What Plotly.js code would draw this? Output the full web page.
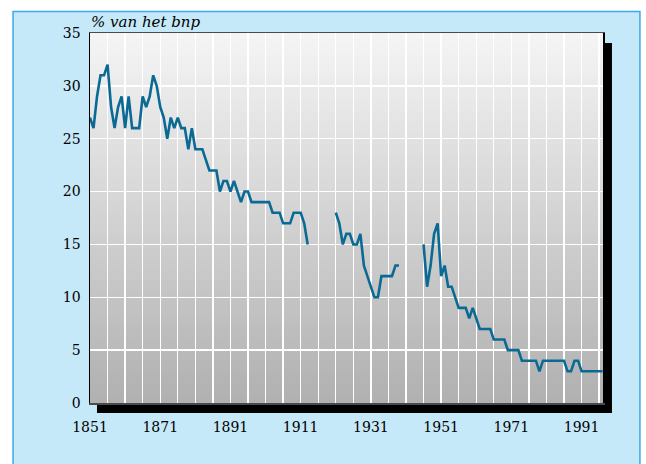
<!DOCTYPE html>
<html>
<head>
<meta charset="utf-8">
<script src="https://cdn.plot.ly/plotly-3.0.1.min.js"></script>
<style>
html,body{margin:0;padding:0;background:#ffffff;}
#chart{width:646px;height:464px;}
</style>
</head>
<body>
<div id="chart"></div>
<script>
// Data
var years = [
1851,1852,1853,1854,1855,1856,1857,1858,1859,1860,
1861,1862,1863,1864,1865,1866,1867,1868,1869,1870,
1871,1872,1873,1874,1875,1876,1877,1878,1879,1880,
1881,1882,1883,1884,1885,1886,1887,1888,1889,1890,
1891,1892,1893,1894,1895,1896,1897,1898,1899,1900,
1901,1902,1903,1904,1905,1906,1907,1908,1909,1910,
1911,1912,1913,1914,1915,1916,1917,1918,1919,1920,
1921,1922,1923,1924,1925,1926,1927,1928,1929,1930,
1931,1932,1933,1934,1935,1936,1937,1938,1939,1940,
1941,1942,1943,1944,1945,1946,1947,1948,1949,1950,
1951,1952,1953,1954,1955,1956,1957,1958,1959,1960,
1961,1962,1963,1964,1965,1966,1967,1968,1969,1970,
1971,1972,1973,1974,1975,1976,1977,1978,1979,1980,
1981,1982,1983,1984,1985,1986,1987,1988,1989,1990,
1991,1992,1993,1994,1995,1996,1997
];
var pctGdp = [
27,26,29,31,31,32,28,26,28,29,
26,29,26,26,26,29,28,29,31,30,
28,27,25,27,26,27,26,26,24,26,
24,24,24,23,22,22,22,20,21,21,
20,21,20,19,20,20,19,19,19,19,
19,19,18,18,18,17,17,17,18,18,
18,17,15,null,null,null,null,null,null,null,
18,17,15,16,16,15,15,16,13,12,
11,10,10,12,12,12,12,13,13,null,
null,null,null,null,null,15,11,13,16,17,
12,13,11,11,10,9,9,9,8,9,
8,7,7,7,7,6,6,6,6,5,
5,5,5,4,4,4,4,4,3,4,
4,4,4,4,4,4,3,3,4,4,
3,3,3,3,3,3,3
];
var xTickVals = [1851,1871,1891,1911,1931,1951,1971,1991];
var xTickText = ['1851','1871','1891','1911','1931','1951','1971','1991'];
var yTickVals = [0,5,10,15,20,25,30,35];
var yTickText = ['0','5','10','15','20','25','30','35'];
var titleText = '% van het bnp';

// Decorative shapes: outer panel, drop shadow, gradient background
var shapes = [];
shapes.push({type:'rect', xref:'paper', yref:'paper', layer:'below',
  x0:-0.150, x1:1.072, y0:-0.20, y1:1.058,
  fillcolor:'#c6e9f9', line:{color:'#3daae4', width:1.5}});
shapes.push({type:'rect', xref:'paper', yref:'paper', layer:'below',
  x0:0.0136, x1:1.0175, y0:-0.027, y1:0.973,
  fillcolor:'#000000', line:{width:0}});
var N = 60;
for (var i = 0; i < N; i++) {
  var t = (i + 0.5) / N;
  var c = Math.round(176 + (245 - 176) * t);
  shapes.push({type:'rect', xref:'paper', yref:'paper', layer:'below',
    x0:0, x1:1, y0:i / N, y1:(i + 1) / N + 0.003,
    fillcolor:'rgb(' + c + ',' + c + ',' + c + ')', line:{width:0}});
}

var fontFam = 'DejaVu Serif, Liberation Serif, serif';

var trace = {
  x: years, y: pctGdp, type:'scatter', mode:'lines',
  connectgaps:false,
  line:{color:'#0a6a94', width:2.6},
  hoverinfo:'x+y'
};

var layout = {
  width:646, height:464,
  margin:{l:90, r:43, t:33, b:61},
  paper_bgcolor:'#ffffff',
  plot_bgcolor:'rgba(0,0,0,0)',
  showlegend:false,
  title:{text:titleText, font:{family:fontFam, size:15, color:'#000000', style:'italic'},
    xref:'paper', x:0.002, xanchor:'left', yref:'container', y:(464-22)/464, yanchor:'middle'},
  xaxis:{range:[1851,1997.1], tickvals:xTickVals, ticktext:xTickText,
    showgrid:true, gridcolor:'#ffffff', gridwidth:1.3,
    minor:{dtick:5, tick0:1851, showgrid:true, gridcolor:'#ffffff', gridwidth:1.3},
    zeroline:false, showline:true, linecolor:'#4a4a4a', linewidth:1.5, mirror:true,
    ticks:'', ticklabelstandoff:11,
    tickfont:{family:fontFam, size:14, color:'#000000'}},
  yaxis:{range:[0,35], tickvals:yTickVals, ticktext:yTickText,
    showgrid:true, gridcolor:'#ffffff', gridwidth:1.3,
    zeroline:false, showline:true, linecolor:'#000000', linewidth:1.5, mirror:true,
    ticks:'', ticklabelstandoff:5,
    tickfont:{family:fontFam, size:14, color:'#000000'}},
  shapes:shapes
};

Plotly.newPlot('chart', [trace], layout, {displayModeBar:false, staticPlot:true});
</script>
</body>
</html>
